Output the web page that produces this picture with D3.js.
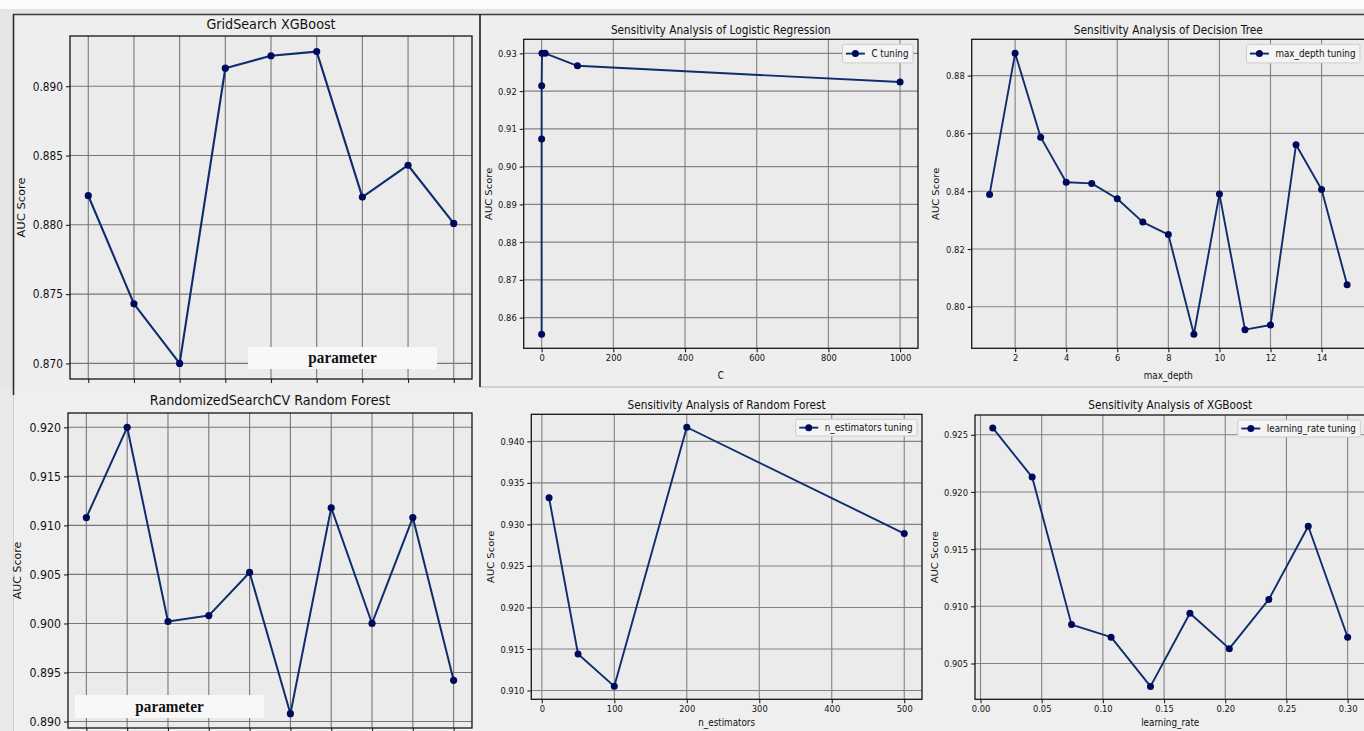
<!DOCTYPE html>
<html>
<head>
<meta charset="utf-8">
<script src="https://cdn.jsdelivr.net/npm/d3@7"></script>
<style>
  html, body { margin: 0; padding: 0; background: #eeeeee; }
  svg { display: block; }
  text { font-family: "DejaVu Sans", sans-serif; fill: #111; }
</style>
</head>
<body>
<svg id="fig" width="1364" height="731"></svg>
<script>
// ---------------- data ----------------
// GridSearch XGBoost: AUC per parameter combination
const gridXgbAuc = [0.8821, 0.8743, 0.8700, 0.8913, 0.8922, 0.8925, 0.8820, 0.8843, 0.8801];
const gridXgbYTicks = [0.870, 0.875, 0.880, 0.885, 0.890];

// Logistic regression: C sweep
const logRegC = [0.001, 0.01, 0.1, 1, 10, 100, 1000];
const logRegAuc = [0.8556, 0.9073, 0.9214, 0.9300, 0.9300, 0.9267, 0.9224];
const logRegYTicks = [0.86, 0.87, 0.88, 0.89, 0.90, 0.91, 0.92, 0.93];
const logRegXTicks = [0, 200, 400, 600, 800, 1000];

// Decision tree: max_depth sweep
const treeDepth = [1, 2, 3, 4, 5, 6, 7, 8, 9, 10, 11, 12, 13, 14, 15];
const treeAuc = [0.8389, 0.8877, 0.8587, 0.8431, 0.8427, 0.8374, 0.8293, 0.8250,
                 0.7905, 0.8390, 0.7921, 0.7937, 0.8561, 0.8406, 0.8076];
const treeYTicks = [0.80, 0.82, 0.84, 0.86, 0.88];
const treeXTicks = [2, 4, 6, 8, 10, 12, 14];

// RandomizedSearchCV Random Forest: AUC per sampled configuration
const randRfAuc = [0.9108, 0.9200, 0.9002, 0.9008, 0.9052, 0.8908, 0.9118, 0.9000, 0.9108, 0.8942];
const randRfYTicks = [0.890, 0.895, 0.900, 0.905, 0.910, 0.915, 0.920];

// Random forest: n_estimators sweep
const rfEstimators = [10, 50, 100, 200, 500];
const rfAuc = [0.9332, 0.9144, 0.9105, 0.9417, 0.9289];
const rfYTicks = [0.910, 0.915, 0.920, 0.925, 0.930, 0.935, 0.940];
const rfXTicks = [0, 100, 200, 300, 400, 500];

// XGBoost: learning_rate sweep
const xgbRate = [0.01, 0.0422, 0.0744, 0.1067, 0.1389, 0.1711, 0.2033, 0.2356, 0.2678, 0.30];
const xgbAuc = [0.9256, 0.9213, 0.9084, 0.9073, 0.9030, 0.9094, 0.9063, 0.9106, 0.9170, 0.9073];
const xgbYTicks = [0.905, 0.910, 0.915, 0.920, 0.925];
const xgbXTicks = [0.00, 0.05, 0.10, 0.15, 0.20, 0.25, 0.30];

// ---------------- drawing ----------------
const SX = 0.88;               // horizontal squeeze of the lettering
const LINE = "#0e2d6d";
const DOT = "#000a5c";
const svg = d3.select("#fig");

// backdrop and panel frames
svg.append("rect").attr("x", 0).attr("y", 0).attr("width", 1364).attr("height", 731).attr("fill", "#eeeeee");
svg.append("rect").attr("x", 0).attr("y", 0).attr("width", 1364).attr("height", 9).attr("fill", "#fbfbfb");
svg.append("rect").attr("x", 0).attr("y", 9).attr("width", 1364).attr("height", 5).attr("fill", "#e4e4e4");
svg.append("rect").attr("x", 0).attr("y", 9).attr("width", 13).attr("height", 722).attr("fill", "#e6e6e6");
svg.append("rect").attr("x", 0).attr("y", 388).attr("width", 1364).attr("height", 343).attr("fill", "#efefef");
svg.append("rect").attr("x", 0).attr("y", 388).attr("width", 13).attr("height", 343).attr("fill", "#e9e9e9");
svg.append("line").attr("x1", 480).attr("x2", 1364).attr("y1", 387).attr("y2", 387)
  .attr("stroke", "#b4b4b4").attr("stroke-width", 1);
svg.append("line").attr("x1", 13).attr("x2", 1364).attr("y1", 14.5).attr("y2", 14.5)
  .attr("stroke", "#3c3c3c").attr("stroke-width", 1.6);
svg.append("line").attr("x1", 13.5).attr("x2", 13.5).attr("y1", 14).attr("y2", 395)
  .attr("stroke", "#2e2e2e").attr("stroke-width", 1.6);
svg.append("line").attr("x1", 13.5).attr("x2", 13.5).attr("y1", 395).attr("y2", 731)
  .attr("stroke", "#cfcfcf").attr("stroke-width", 1);
svg.append("line").attr("x1", 480).attr("x2", 480).attr("y1", 14).attr("y2", 387)
  .attr("stroke", "#1e1e1e").attr("stroke-width", 1.6);

function txt(parent, x, y, str, o) {
  const t = parent.append("text")
    .attr("transform", `translate(${x},${y}) scale(${SX},1)` + (o.rotate ? " rotate(-90)" : ""))
    .attr("text-anchor", o.anchor || "middle")
    .style("font-size", o.size + "px")
    .text(str);
  if (o.dy) t.attr("dy", o.dy);
  return t;
}

function padded(vals) {
  const [a, b] = d3.extent(vals);
  const m = (b - a) * 0.05;
  return [a - m, b + m];
}

function panel(c) {
  const g = svg.append("g");
  const { l, t, r, b } = c.box;
  const n = c.ys.length;
  const x = c.xs
    ? d3.scaleLinear().domain(padded(c.xs)).range([l, r])
    : d3.scalePoint().domain(d3.range(n)).range([l, r]).padding(0.05 * (n - 1));
  const y = d3.scaleLinear().domain(padded(c.ys)).range([b, t]);
  const xv = c.xs ? c.xs : d3.range(n);
  const xTickVals = c.xTicks || d3.range(n);

  g.append("rect").attr("x", l).attr("y", t).attr("width", r - l).attr("height", b - t)
    .attr("fill", "#ebebeb");

  // grid
  const grid = g.append("g").attr("stroke", c.gridColor || "#828282").attr("stroke-width", 1.1);
  c.yTicks.forEach(v => grid.append("line").attr("x1", l).attr("x2", r)
    .attr("y1", y(v)).attr("y2", y(v)));
  xTickVals.forEach(v => grid.append("line").attr("x1", x(v)).attr("x2", x(v))
    .attr("y1", t).attr("y2", b));

  // y axis via d3 axis, then squeeze the labels
  const ya = g.append("g").attr("transform", `translate(${l},0)`)
    .call(d3.axisLeft(y).tickValues(c.yTicks).tickFormat(d3.format(c.yFmt)).tickSize(4).tickPadding(3));
  ya.select(".domain").remove();
  ya.selectAll("line").attr("stroke", "#222").attr("stroke-width", 1.1);
  ya.selectAll("text").each(function () {
    d3.select(this).attr("transform", `translate(${-7},0) scale(${SX},1)`).attr("x", 0)
      .style("font-size", c.tickSize + "px").style("font-family", '"DejaVu Sans", sans-serif')
      .attr("fill", "#111");
  });

  // x axis
  const xa = g.append("g").attr("transform", `translate(0,${b})`)
    .call(d3.axisBottom(x).tickValues(xTickVals).tickSize(4).tickPadding(3)
      .tickFormat(c.xFmt ? d3.format(c.xFmt) : () => ""));
  xa.select(".domain").remove();
  xa.selectAll("line").attr("stroke", "#222").attr("stroke-width", 1.1);
  xa.selectAll("text").each(function () {
    d3.select(this).attr("transform", `translate(0,6) scale(${SX},1)`).attr("y", 0).attr("dy", "0.71em")
      .style("font-size", c.tickSize + "px").style("font-family", '"DejaVu Sans", sans-serif')
      .attr("fill", "#111");
  });

  // series
  g.append("path").datum(c.ys.map((v, i) => [xv[i], v]))
    .attr("fill", "none").attr("stroke", LINE).attr("stroke-width", c.lw || 1.9)
    .attr("stroke-linejoin", "round")
    .attr("d", d3.line().x(d => x(d[0])).y(d => y(d[1])));
  g.selectAll("circle.pt").data(c.ys).join("circle").attr("class", "pt")
    .attr("cx", (d, i) => x(xv[i])).attr("cy", d => y(d)).attr("r", c.r || 3.5).attr("fill", DOT);

  // spines
  g.append("rect").attr("x", l).attr("y", t).attr("width", r - l).attr("height", b - t)
    .attr("fill", "none").attr("stroke", "#151515").attr("stroke-width", 1.3);

  // titles and labels
  txt(g, (l + r) / 2, c.titleY, c.title, { size: c.titleSize });
  txt(g, c.yLabelX, (t + b) / 2, "AUC Score", { size: c.labelSize, rotate: true, dy: "0.35em" });
  if (c.xLabel) txt(g, (l + r) / 2, c.xLabelY, c.xLabel, { size: c.labelSize });

  // legend
  if (c.legend) {
    const lg = g.append("g");
    const h = c.legendH;
    const ly = t + 5 + h / 2;
    const box = lg.append("rect").attr("y", t + 5).attr("height", h).attr("rx", 2)
      .attr("fill", "#f4f4f4").attr("stroke", "#cdcdcd").attr("stroke-width", 1);
    const lt = txt(lg, 0, ly, c.legend, { size: c.labelSize, anchor: "start", dy: "0.35em" });
    const tw = lt.node().getComputedTextLength() * SX;
    const right = r - 5;
    const left = right - (3.5 + 19 + 6.5 + tw + 4.5);
    box.attr("x", left).attr("width", right - left);
    lt.attr("transform", `translate(${left + 29},${ly}) scale(${SX},1)`);
    lg.append("line").attr("x1", left + 3.5).attr("x2", left + 22.5).attr("y1", ly).attr("y2", ly)
      .attr("stroke", LINE).attr("stroke-width", 1.9);
    lg.append("circle").attr("cx", left + 13).attr("cy", ly).attr("r", 3.5).attr("fill", DOT);
  }

  // "parameter" caption box
  if (c.paramBox) {
    const p = c.paramBox;
    g.append("rect").attr("x", p.x).attr("y", p.y).attr("width", p.w).attr("height", p.h).attr("fill", "#f8f8f8");
    g.append("text").attr("transform", `translate(${p.x + p.w / 2},${p.y + p.h / 2}) scale(0.95,1)`)
      .attr("text-anchor", "middle").attr("dy", "0.32em")
      .style("font-family", '"Liberation Serif", "Times New Roman", serif')
      .style("font-weight", "bold").style("font-size", "16px").text("parameter");
  }
}

// top row
panel({
  box: { l: 70, t: 36, r: 472, b: 379 }, ys: gridXgbAuc, yTicks: gridXgbYTicks, yFmt: ".3f",
  title: "GridSearch XGBoost", titleY: 29, titleSize: 14.5, tickSize: 12, labelSize: 11.5,
  yLabelX: 21, lw: 2.1, r: 3.6, gridColor: "#777777",
  paramBox: { x: 248, y: 347, w: 189, h: 22 }
});
panel({
  box: { l: 523.7, t: 39.3, r: 918, b: 348.3 }, xs: logRegC, ys: logRegAuc,
  yTicks: logRegYTicks, yFmt: ".2f", xTicks: logRegXTicks, xFmt: "d",
  title: "Sensitivity Analysis of Logistic Regression", titleY: 33.5, titleSize: 12,
  tickSize: 9.5, labelSize: 10, yLabelX: 489, xLabel: "C", xLabelY: 379,
  legend: "C tuning", legendH: 18.6
});
panel({
  box: { l: 971.7, t: 39.3, r: 1365, b: 348.3 }, xs: treeDepth, ys: treeAuc,
  yTicks: treeYTicks, yFmt: ".2f", xTicks: treeXTicks, xFmt: "d",
  title: "Sensitivity Analysis of Decision Tree", titleY: 33.5, titleSize: 12,
  tickSize: 9.5, labelSize: 10, yLabelX: 936, xLabel: "max_depth", xLabelY: 379,
  legend: "max_depth tuning", legendH: 18.6
});

// bottom row
panel({
  box: { l: 68, t: 413, r: 472, b: 728 }, ys: randRfAuc, yTicks: randRfYTicks, yFmt: ".3f",
  title: "RandomizedSearchCV Random Forest", titleY: 405, titleSize: 14.5, tickSize: 12.5,
  labelSize: 11, yLabelX: 17.5, lw: 2.0, r: 3.6, gridColor: "#777777",
  paramBox: { x: 75, y: 695, w: 189, h: 23 }
});
panel({
  box: { l: 531.3, t: 414.3, r: 922, b: 699.3 }, xs: rfEstimators, ys: rfAuc,
  yTicks: rfYTicks, yFmt: ".3f", xTicks: rfXTicks, xFmt: "d",
  title: "Sensitivity Analysis of Random Forest", titleY: 408.5, titleSize: 12,
  tickSize: 9.5, labelSize: 10, yLabelX: 490.5, xLabel: "n_estimators", xLabelY: 726,
  legend: "n_estimators tuning", legendH: 16.7
});
panel({
  box: { l: 975, t: 415, r: 1365.4, b: 699.3 }, xs: xgbRate, ys: xgbAuc,
  yTicks: xgbYTicks, yFmt: ".3f", xTicks: xgbXTicks, xFmt: ".2f",
  title: "Sensitivity Analysis of XGBoost", titleY: 408.5, titleSize: 12,
  tickSize: 9.5, labelSize: 10, yLabelX: 935, xLabel: "learning_rate", xLabelY: 726,
  legend: "learning_rate tuning", legendH: 17
});
</script>
</body>
</html>
